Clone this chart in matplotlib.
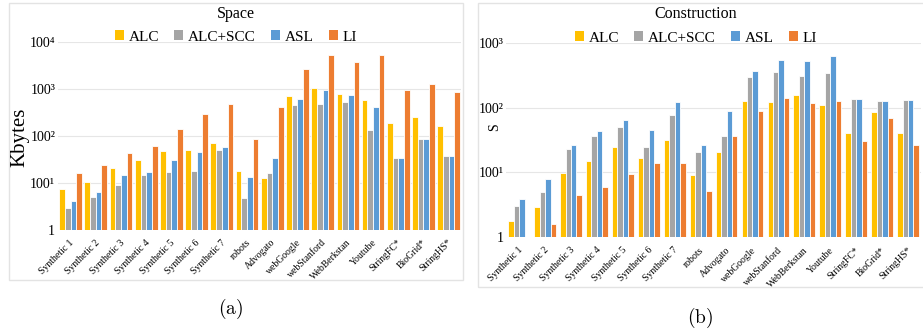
import numpy as np
import matplotlib
matplotlib.use("Agg")
import matplotlib.pyplot as plt
from matplotlib.patches import Rectangle, Patch
from matplotlib import transforms

plt.rcParams["font.family"] = ["Liberation Serif", "DejaVu Serif"]

datasets = ["Synthetic 1", "Synthetic 2", "Synthetic 3", "Synthetic 4", "Synthetic 5",
            "Synthetic 6", "Synthetic 7", "robots", "Advogato", "webGoogle",
            "webStanford", "WebBerkstan", "Youtube", "StringFC*", "BioGrid*", "StringHS*"]
methods = ["ALC", "ALC+SCC", "ASL", "LI"]
colors = ["#FFC000", "#A5A5A5", "#5B9BD5", "#ED7D31"]

# space usage in Kbytes
space_alc = [7.3, 10.7, 21, 31, 48, 50, 71, 18, 13, 700, 1070, 780, 600, 189, 250, 166]
space_scc = [3.0, 5.0, 9.1, 15, 17, 18, 51, 4.7, 16, 450, 480, 530, 132, 35, 86, 38]
space_asl = [4.1, 6.4, 15, 17, 31, 46, 59, 13.4, 35, 620, 970, 770, 410, 35, 86, 38]
space_li = [16, 24, 44, 61, 139, 300, 480, 86, 410, 2660, 5470, 3820, 5370, 950, 1300, 860]

# construction time in seconds
time_alc = [1.75, 2.86, 9.6, 15, 24.7, 16.7, 31.4, 8.9, 20.4, 128, 124, 160, 110, 41, 85.5, 40]
time_scc = [3.0, 4.9, 22.8, 36.6, 50.5, 25, 78, 20.4, 36, 302, 361, 310, 344, 136, 126, 134]
time_asl = [3.85, 7.9, 26.8, 43.8, 64.9, 45.4, 122, 26.3, 90, 370, 560, 530, 640, 136, 126, 134]
time_li = [1.0, 1.57, 4.4, 6.0, 9.4, 13.8, 13.8, 5.1, 36.6, 90, 143, 120, 128, 30, 70.5, 26.5]

space_ticks = ["1", "100¹", "100²", "100³", "100⁴"]
time_ticks = ["1", "100¹", "100²", "100³"]

W, H = 923, 333
fig = plt.figure(figsize=(W / 100, H / 100), dpi=100)


def px_box(x0, y0, x1, y1):
    return [x0 / W, 1 - y1 / H, (x1 - x0) / W, (y1 - y0) / H]


# light panel frames
for x0, y0, x1, y1 in [(9, 3, 463, 280), (478, 3, 930, 287)]:
    fig.patches.append(Rectangle((x0 / W, 1 - y1 / H), (x1 - x0) / W, (y1 - y0) / H,
                                 transform=fig.transFigure, fill=False,
                                 edgecolor="#E3E3E3", linewidth=1.0))


def draw_panel(ax, series, width, ymax, ticklabels, label_drop):
    x = np.arange(len(datasets))
    for k, vals in enumerate(series):
        ax.bar(x + (k - 1.5) * width, np.array(vals) - 1, bottom=1, width=width,
               color=colors[k], edgecolor="white", linewidth=0.6, zorder=3)
    ax.set_yscale("log")
    ax.set_ylim(1, ymax)
    ax.set_xlim(-0.5, len(datasets) - 0.5)
    decades = [10 ** i for i in range(len(ticklabels))]
    ax.set_yticks(decades)
    ax.set_yticklabels(ticklabels, fontsize=10)
    ax.minorticks_off()
    ax.tick_params(axis="y", length=0, pad=2)
    ax.set_xticks([])
    for y in decades[1:]:
        ax.axhline(y, color="#E6E6E6", linewidth=0.8, zorder=1)
    for s in ax.spines.values():
        s.set_visible(False)
    trans = transforms.blended_transform_factory(ax.transData, ax.transAxes)
    trans = trans + transforms.ScaledTranslation(0.02, -label_drop / 100, fig.dpi_scale_trans)
    for i, name in enumerate(datasets):
        ax.text(i, 0, name, transform=trans, rotation=45, rotation_mode="anchor",
                ha="right", va="center", fontsize=7)


ax1 = fig.add_axes(px_box(58, 42.3, 461.3, 230))
draw_panel(ax1, [space_alc, space_scc, space_asl, space_li], 0.225, 1e4, space_ticks, 11)
fig.text(20 / W, 1 - 137 / H, "Kbytes", rotation=90, ha="center", va="center", fontsize=15)

ax2 = fig.add_axes(px_box(506.2, 43.3, 921, 236.7))
draw_panel(ax2, [time_alc, time_scc, time_asl, time_li], 0.21, 1e3, time_ticks, 12)
fig.text(495 / W, 1 - 127 / H, "S", rotation=90, ha="center", va="center", fontsize=10)

handles = [Patch(facecolor=c, edgecolor="none") for c in colors]
for cx, ty, ly, title in [(236, 14, 37, "Space"), (696, 14, 38, "Construction")]:
    fig.text(cx / W, 1 - ty / H, title, ha="center", va="center", fontsize=11.5)
    fig.legend(handles, methods, loc="center", bbox_to_anchor=(cx / W, 1 - ly / H),
               ncol=4, frameon=False, fontsize=11, handlelength=0.6, handleheight=0.6,
               handletextpad=0.3, columnspacing=1.0, borderpad=0)

plt.rcParams["mathtext.fontset"] = "cm"
fig.text(231 / W, 1 - 309 / H, r"$\mathrm{(a)}$", ha="center", va="center", fontsize=14)
fig.text(700 / W, 1 - 318 / H, r"$\mathrm{(b)}$", ha="center", va="center", fontsize=14)

fig.savefig("out.png", dpi=100)
